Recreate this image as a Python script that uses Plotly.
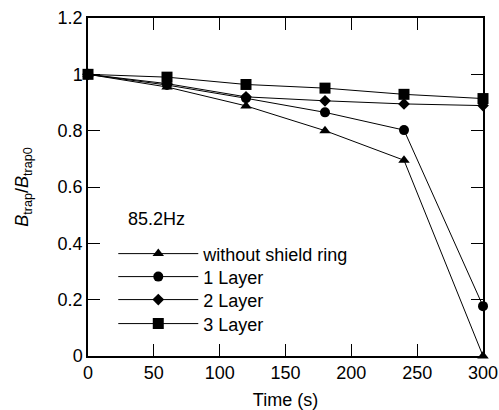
import plotly.graph_objects as go

time_s = [0, 60, 120, 180, 240, 300]
without_ring = [1.0, 0.955, 0.888, 0.800, 0.695, 0.0]
layer1 = [1.0, 0.962, 0.915, 0.865, 0.802, 0.177]
layer2 = [1.0, 0.967, 0.920, 0.906, 0.895, 0.889]
layer3 = [1.0, 0.990, 0.964, 0.951, 0.929, 0.914]

series = [
    ("without shield ring", without_ring, "triangle-up", 10),
    ("1 Layer", layer1, "circle", 10),
    ("2 Layer", layer2, "diamond", 9),
    ("3 Layer", layer3, "square", 11),
]

FONT = "Liberation Sans, Arial, sans-serif"
FS = 18
legend_ids = ["legend", "legend2", "legend3", "legend4"]
legend_rows = [0.302, 0.234, 0.166, 0.095]

fig = go.Figure()
for (name, vals, sym, sz), lid in zip(series, legend_ids):
    fig.add_trace(go.Scatter(
        x=time_s, y=vals, name=name, mode="lines+markers",
        line=dict(color="black", width=1),
        marker=dict(symbol=sym, size=sz, color="black"),
        cliponaxis=False, legend=lid,
    ))

axis_common = dict(
    showline=True, linecolor="black", linewidth=1.5, mirror="allticks",
    ticks="inside", ticklen=12, tickwidth=1, tickcolor="black",
    showgrid=False, zeroline=False, automargin=False,
    tickfont=dict(family=FONT, size=FS, color="black"),
)

legend_layout = {}
for lid, ly in zip(legend_ids, legend_rows):
    legend_layout[lid] = dict(
        x=0.064, y=ly, xanchor="left", yanchor="middle",
        bgcolor="rgba(0,0,0,0)", borderwidth=0,
        font=dict(family=FONT, size=FS, color="black"),
        itemwidth=80,
    )

fig.update_layout(
    width=499, height=410,
    margin=dict(l=88, r=16, t=18, b=54),
    paper_bgcolor="white", plot_bgcolor="white",
    font=dict(family=FONT, size=FS, color="black"),
    showlegend=True,
    xaxis=dict(range=[0, 300], dtick=50, tick0=0,
               title=dict(text="Time (s)", standoff=12,
                          font=dict(family=FONT, size=FS)),
               **axis_common),
    yaxis=dict(range=[0, 1.2], dtick=0.2, tick0=0,
               title=dict(text="<i>B</i><sub>trap</sub>/<i>B</i><sub>trap0</sub>",
                          standoff=24, font=dict(family=FONT, size=FS)),
               **axis_common),
    annotations=[dict(
        text="85.2Hz", x=0.095, y=0.406, xref="paper", yref="paper",
        xanchor="left", yanchor="middle", showarrow=False,
        font=dict(family=FONT, size=FS, color="black"),
    )],
    **legend_layout,
)

fig.write_html(
    "out.html",
    config={"displayModeBar": False},
    post_script="document.body.style.margin='0';document.body.style.overflow='hidden';",
)
